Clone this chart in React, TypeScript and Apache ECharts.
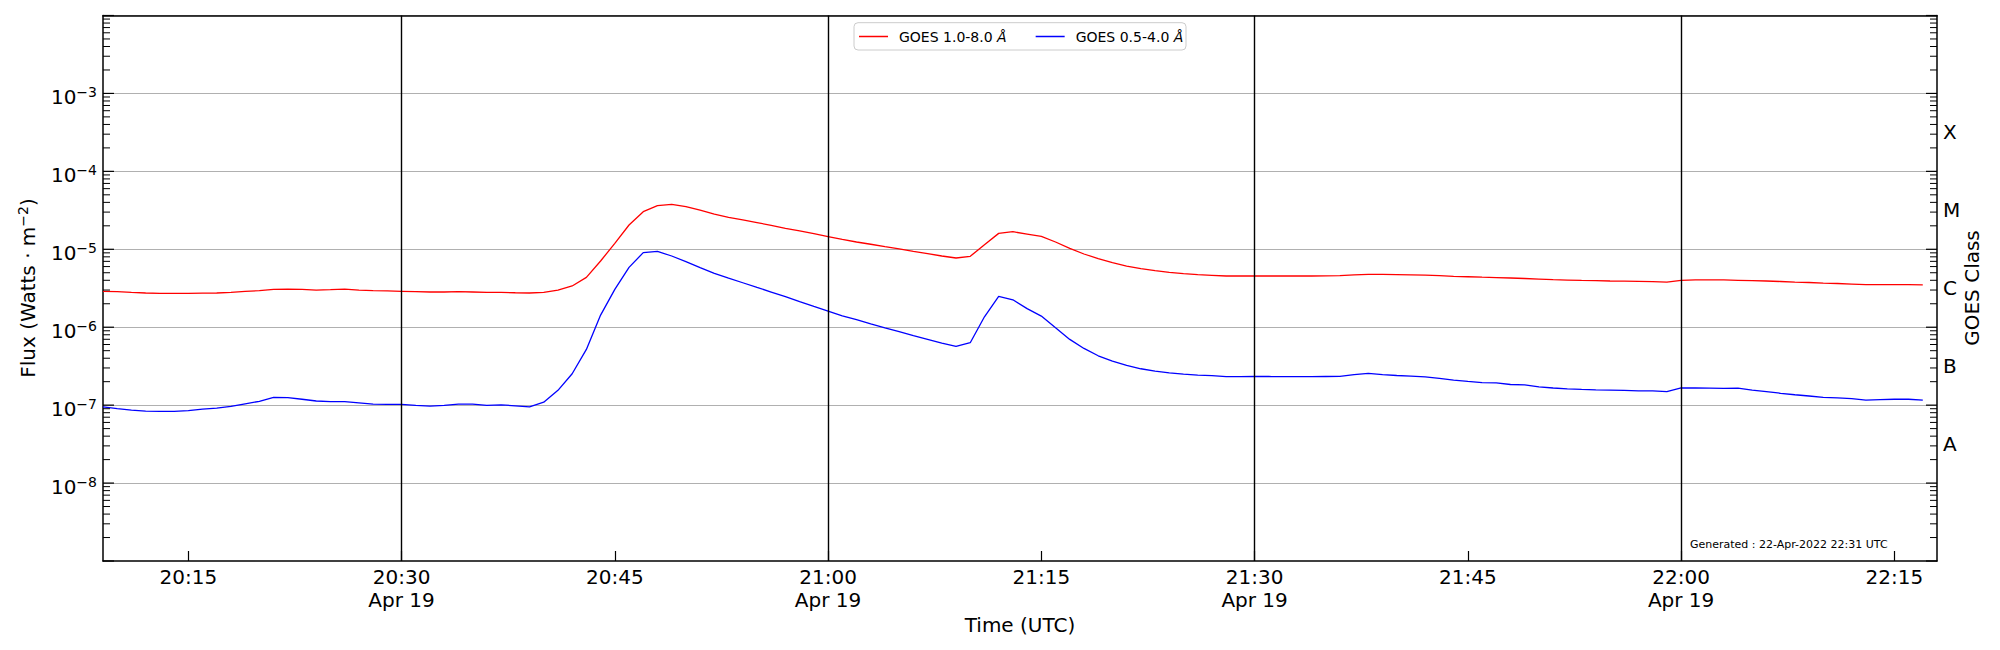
import React, { useEffect, useRef } from "react";
import * as echarts from "echarts";

// ---------- data ----------
const START_MINUTE = 20 * 60 + 9; // 20:09 UTC, first sample
const END_MINUTE = 22 * 60 + 18; // right edge of the time axis
const CADENCE_MIN = 1; // one sample per minute
const DATE_LABEL = "Apr 19";

const seriesNames = ["GOES 1.0-8.0 Å", "GOES 0.5-4.0 Å"];

// GOES 1.0-8.0 Å flux, W m^-2, 20:09 ... 22:17
const xrsLong = [
  2.89e-6, 2.86e-6, 2.8e-6, 2.75e-6, 2.72e-6, 2.72e-6, 2.72e-6, 2.74e-6, 2.75e-6, 2.8e-6,
  2.89e-6, 2.94e-6, 3.06e-6, 3.09e-6, 3.06e-6, 3.0e-6, 3.03e-6, 3.09e-6, 3.0e-6, 2.94e-6,
  2.92e-6, 2.89e-6, 2.86e-6, 2.83e-6, 2.83e-6, 2.86e-6, 2.83e-6, 2.8e-6, 2.8e-6, 2.77e-6,
  2.75e-6, 2.8e-6, 3.0e-6, 3.38e-6, 4.36e-6, 7.08e-6, 1.19e-5, 2.05e-5, 3.04e-5, 3.63e-5,
  3.78e-5, 3.52e-5, 3.17e-5, 2.82e-5, 2.57e-5, 2.38e-5, 2.2e-5, 2.03e-5, 1.86e-5, 1.72e-5,
  1.59e-5, 1.45e-5, 1.34e-5, 1.24e-5, 1.16e-5, 1.08e-5, 1.01e-5, 9.42e-6, 8.8e-6, 8.2e-6,
  7.73e-6, 8.12e-6, 1.14e-5, 1.6e-5, 1.68e-5, 1.57e-5, 1.46e-5, 1.24e-5, 1.03e-5, 8.7e-6,
  7.58e-6, 6.74e-6, 6.1e-6, 5.64e-6, 5.32e-6, 5.06e-6, 4.86e-6, 4.72e-6, 4.63e-6, 4.54e-6,
  4.54e-6, 4.54e-6, 4.54e-6, 4.54e-6, 4.54e-6, 4.54e-6, 4.56e-6, 4.6e-6, 4.7e-6, 4.77e-6,
  4.76e-6, 4.74e-6, 4.7e-6, 4.65e-6, 4.58e-6, 4.5e-6, 4.44e-6, 4.38e-6, 4.33e-6, 4.28e-6,
  4.22e-6, 4.15e-6, 4.08e-6, 4.03e-6, 3.98e-6, 3.95e-6, 3.92e-6, 3.9e-6, 3.87e-6, 3.84e-6,
  3.8e-6, 4.0e-6, 4.04e-6, 4.04e-6, 4.04e-6, 4.0e-6, 3.96e-6, 3.92e-6, 3.86e-6, 3.8e-6,
  3.75e-6, 3.69e-6, 3.64e-6, 3.58e-6, 3.52e-6, 3.52e-6, 3.52e-6, 3.52e-6, 3.5e-6,
];

// GOES 0.5-4.0 Å flux, W m^-2, 20:09 ... 22:17
const xrsShort = [
  9.5e-8, 9.0e-8, 8.65e-8, 8.4e-8, 8.32e-8, 8.32e-8, 8.48e-8, 8.9e-8, 9.18e-8, 9.64e-8,
  1.04e-7, 1.12e-7, 1.26e-7, 1.25e-7, 1.19e-7, 1.13e-7, 1.11e-7, 1.11e-7, 1.07e-7, 1.03e-7,
  1.02e-7, 1.02e-7, 9.93e-8, 9.7e-8, 9.93e-8, 1.03e-7, 1.03e-7, 9.93e-8, 1.01e-7, 9.8e-8,
  9.5e-8, 1.09e-7, 1.55e-7, 2.53e-7, 5.19e-7, 1.43e-6, 3.06e-6, 5.86e-6, 9.06e-6, 9.42e-6,
  8.2e-6, 6.94e-6, 5.8e-6, 4.91e-6, 4.27e-6, 3.72e-6, 3.24e-6, 2.83e-6, 2.47e-6, 2.13e-6,
  1.85e-6, 1.61e-6, 1.4e-6, 1.25e-6, 1.1e-6, 9.8e-7, 8.76e-7, 7.79e-7, 6.98e-7, 6.27e-7,
  5.68e-7, 6.33e-7, 1.36e-6, 2.49e-6, 2.25e-6, 1.73e-6, 1.39e-6, 9.84e-7, 6.98e-7, 5.34e-7,
  4.3e-7, 3.68e-7, 3.24e-7, 2.93e-7, 2.74e-7, 2.6e-7, 2.5e-7, 2.43e-7, 2.39e-7, 2.32e-7,
  2.32e-7, 2.33e-7, 2.33e-7, 2.32e-7, 2.32e-7, 2.32e-7, 2.33e-7, 2.34e-7, 2.46e-7, 2.56e-7,
  2.46e-7, 2.4e-7, 2.36e-7, 2.3e-7, 2.2e-7, 2.1e-7, 2.02e-7, 1.95e-7, 1.93e-7, 1.84e-7,
  1.82e-7, 1.72e-7, 1.66e-7, 1.62e-7, 1.59e-7, 1.57e-7, 1.56e-7, 1.55e-7, 1.52e-7, 1.52e-7,
  1.49e-7, 1.67e-7, 1.66e-7, 1.65e-7, 1.64e-7, 1.65e-7, 1.56e-7, 1.49e-7, 1.42e-7, 1.36e-7,
  1.31e-7, 1.26e-7, 1.24e-7, 1.21e-7, 1.16e-7, 1.18e-7, 1.19e-7, 1.19e-7, 1.16e-7,
];

// axis ticks / labels
const xTickMinutes = [1215, 1230, 1245, 1260, 1275, 1290, 1305, 1320, 1335];
const dayLineMinutes = [1230, 1260, 1290, 1320];
const yMinExp = -9;
const yMaxExp = -2;
const yLabelExps = [-8, -7, -6, -5, -4, -3];
const minorMultipliers = [2, 3, 4, 5, 6, 7, 8, 9];
const goesClasses = ["A", "B", "C", "M", "X"];
const goesClassCenters = [-7.5, -6.5, -5.5, -4.5, -3.5];
const generatedText = "Generated : 22-Apr-2022 22:31 UTC";

const FONT = "DejaVu Sans";
const RED = "#ff0000";
const BLUE = "#0000ff";

function pad2(n: number) {
  return n < 10 ? "0" + n : "" + n;
}

export default function App() {
  const ref = useRef<HTMLDivElement>(null);

  useEffect(() => {
    if (!ref.current) return;
    const chart = echarts.init(ref.current, undefined, { renderer: "svg" });

    const longData = xrsLong.map((v, i) => [START_MINUTE + i * CADENCE_MIN, v]);
    const shortData = xrsShort.map((v, i) => [START_MINUTE + i * CADENCE_MIN, v]);

    // y tick positions (decades = major, k*10^n = minor), drawn on both sides
    const tickData: number[][] = [];
    for (let e = yMinExp; e <= yMaxExp; e++) {
      tickData.push([START_MINUTE, Math.pow(10, e), 1]);
      if (e < yMaxExp) {
        minorMultipliers.forEach((k) => tickData.push([START_MINUTE, k * Math.pow(10, e), 0]));
      }
    }

    const axisLineStyle = { color: "#000", width: 1.5 };

    const option: any = {
      animation: false,
      textStyle: { fontFamily: FONT },
      grid: { left: 103, right: 63, top: 15.5, bottom: 89, containLabel: false },
      legend: {
        data: seriesNames.map((n) => ({ name: n, icon: "rect" })),
        left: 854,
        top: 23.5,
        orient: "horizontal",
        padding: [6, 6, 6, 5],
        itemWidth: 29,
        itemHeight: 1.5,
        itemGap: 29,
        backgroundColor: "transparent",
        borderWidth: 0,
        z: 10,
        textStyle: {
          fontSize: 14,
          color: "#000",
          fontFamily: FONT,
          rich: {
            g: { width: 6, fontSize: 14 },
            i: { fontStyle: "italic", fontSize: 14, fontFamily: FONT, color: "#000" },
          },
        },
        formatter: (name: string) => "{g|}" + name.replace("Å", "{i|Å}"),
      },
      xAxis: [
        {
          type: "value",
          min: START_MINUTE,
          max: END_MINUTE,
          position: "bottom",
          axisLine: { show: true, onZero: false, lineStyle: axisLineStyle },
          axisTick: {
            show: true,
            inside: true,
            length: 10,
            customValues: xTickMinutes,
            lineStyle: { color: "#000", width: 1.2 },
          },
          axisLabel: {
            customValues: xTickMinutes,
            fontSize: 20,
            fontFamily: FONT,
            color: "#000",
            lineHeight: 23.5,
            margin: 4,
            formatter: (v: number) => {
              const m = Math.round(v);
              const s = pad2(Math.floor(m / 60)) + ":" + pad2(m % 60);
              return m % 30 === 0 ? s + "\n" + DATE_LABEL : s;
            },
          },
          splitLine: { show: false },
        },
        {
          type: "value",
          min: START_MINUTE,
          max: END_MINUTE,
          position: "top",
          axisLine: { show: true, onZero: false, lineStyle: axisLineStyle },
          axisTick: { show: false },
          axisLabel: { show: false },
          splitLine: { show: false },
        },
      ],
      yAxis: [
        {
          type: "log",
          logBase: 10,
          min: Math.pow(10, yMinExp),
          max: Math.pow(10, yMaxExp),
          splitNumber: 7,
          position: "left",
          axisLine: { show: true, onZero: false, lineStyle: axisLineStyle },
          axisTick: { show: false },
          axisLabel: {
            margin: 6,
            color: "#000",
            fontSize: 20,
            fontFamily: FONT,
            padding: [8, 0, 0, 0],
            formatter: (v: number) => {
              const e = Math.round(Math.log10(v));
              if (yLabelExps.indexOf(e) < 0) return "";
              return "{b|10}{s|−" + -e + "}";
            },
            rich: {
              b: { fontSize: 20, lineHeight: 24, fontFamily: FONT, color: "#000" },
              s: { fontSize: 14, lineHeight: 12, verticalAlign: "top", fontFamily: FONT, color: "#000" },
            },
          },
          splitLine: {
            show: true,
            showMinLine: false,
            showMaxLine: false,
            lineStyle: { color: "#b0b0b0", width: 1 },
          },
        },
        {
          type: "value",
          min: yMinExp,
          max: yMaxExp,
          interval: 0.5,
          position: "right",
          axisLine: { show: true, onZero: false, lineStyle: axisLineStyle },
          axisTick: { show: false },
          axisLabel: {
            margin: 6,
            color: "#000",
            fontSize: 20,
            fontFamily: FONT,
            padding: [6, 0, 0, 0],
            formatter: (v: number) => {
              const idx = goesClassCenters.findIndex((c) => Math.abs(c - v) < 1e-6);
              return idx >= 0 ? goesClasses[idx] : "";
            },
          },
          splitLine: { show: false },
        },
      ],
      series: [
        {
          name: seriesNames[0],
          type: "line",
          xAxisIndex: 0,
          yAxisIndex: 0,
          data: longData,
          symbol: "none",
          showSymbol: false,
          lineStyle: { color: RED, width: 1.3 },
          itemStyle: { color: RED },
          z: 3,
          markLine: {
            silent: true,
            symbol: ["none", "none"],
            label: { show: false },
            lineStyle: { color: "#000", width: 1.4, type: "solid" },
            emphasis: { disabled: true },
            data: dayLineMinutes.map((m) => ({ xAxis: m })),
          },
        },
        {
          name: seriesNames[1],
          type: "line",
          xAxisIndex: 0,
          yAxisIndex: 0,
          data: shortData,
          symbol: "none",
          showSymbol: false,
          lineStyle: { color: BLUE, width: 1.3 },
          itemStyle: { color: BLUE },
          z: 3,
        },
        {
          name: "ticks",
          type: "custom",
          xAxisIndex: 0,
          yAxisIndex: 0,
          data: tickData,
          encode: { x: 0, y: 1 },
          silent: true,
          clip: false,
          z: 5,
          renderItem: (params: any, api: any) => {
            const v = api.value(1);
            const major = api.value(2) === 1;
            const y = api.coord([START_MINUTE, v])[1];
            const cs = params.coordSys;
            const len = major ? 11 : 7;
            const style = { stroke: "#000", lineWidth: major ? 1.2 : 1 };
            return {
              type: "group",
              children: [
                { type: "line", shape: { x1: cs.x, y1: y, x2: cs.x + len, y2: y }, style },
                {
                  type: "line",
                  shape: { x1: cs.x + cs.width - len, y1: y, x2: cs.x + cs.width, y2: y },
                  style,
                },
              ],
            };
          },
        },
      ],
      graphic: [
        {
          type: "rect",
          z: 5,
          shape: { x: 854, y: 22.7, width: 332, height: 27.3, r: 4 },
          style: { fill: "rgba(255,255,255,0.8)", stroke: "#cccccc", lineWidth: 1 },
        },
        {
          type: "text",
          x: 28,
          y: 288,
          rotation: Math.PI / 2,
          style: {
            text: "{a|Flux (Watts · m}{s|−2}{a|)}",
            align: "center",
            verticalAlign: "middle",
            rich: {
              a: { fontSize: 20, lineHeight: 24, fontFamily: FONT, fill: "#000" },
              s: { fontSize: 14, lineHeight: 12, verticalAlign: "top", fontFamily: FONT, fill: "#000" },
            },
          },
        },
        {
          type: "text",
          x: 1972,
          y: 288,
          rotation: Math.PI / 2,
          style: {
            text: "GOES Class",
            fontSize: 20,
            fontFamily: FONT,
            fill: "#000",
            align: "center",
            verticalAlign: "middle",
          },
        },
        {
          type: "text",
          x: 1020,
          y: 625,
          style: {
            text: "Time (UTC)",
            fontSize: 20,
            fontFamily: FONT,
            fill: "#000",
            align: "center",
            verticalAlign: "middle",
          },
        },
        {
          type: "text",
          x: 1690,
          y: 544,
          style: {
            text: generatedText,
            fontSize: 11,
            fontFamily: FONT,
            fill: "#000",
            align: "left",
            verticalAlign: "middle",
          },
        },
      ],
    };

    chart.setOption(option);
    return () => chart.dispose();
  }, []);

  return (
    <div
      ref={ref}
      style={{ position: "absolute", left: 0, top: 0, width: 2000, height: 650, background: "#fff" }}
    />
  );
}
